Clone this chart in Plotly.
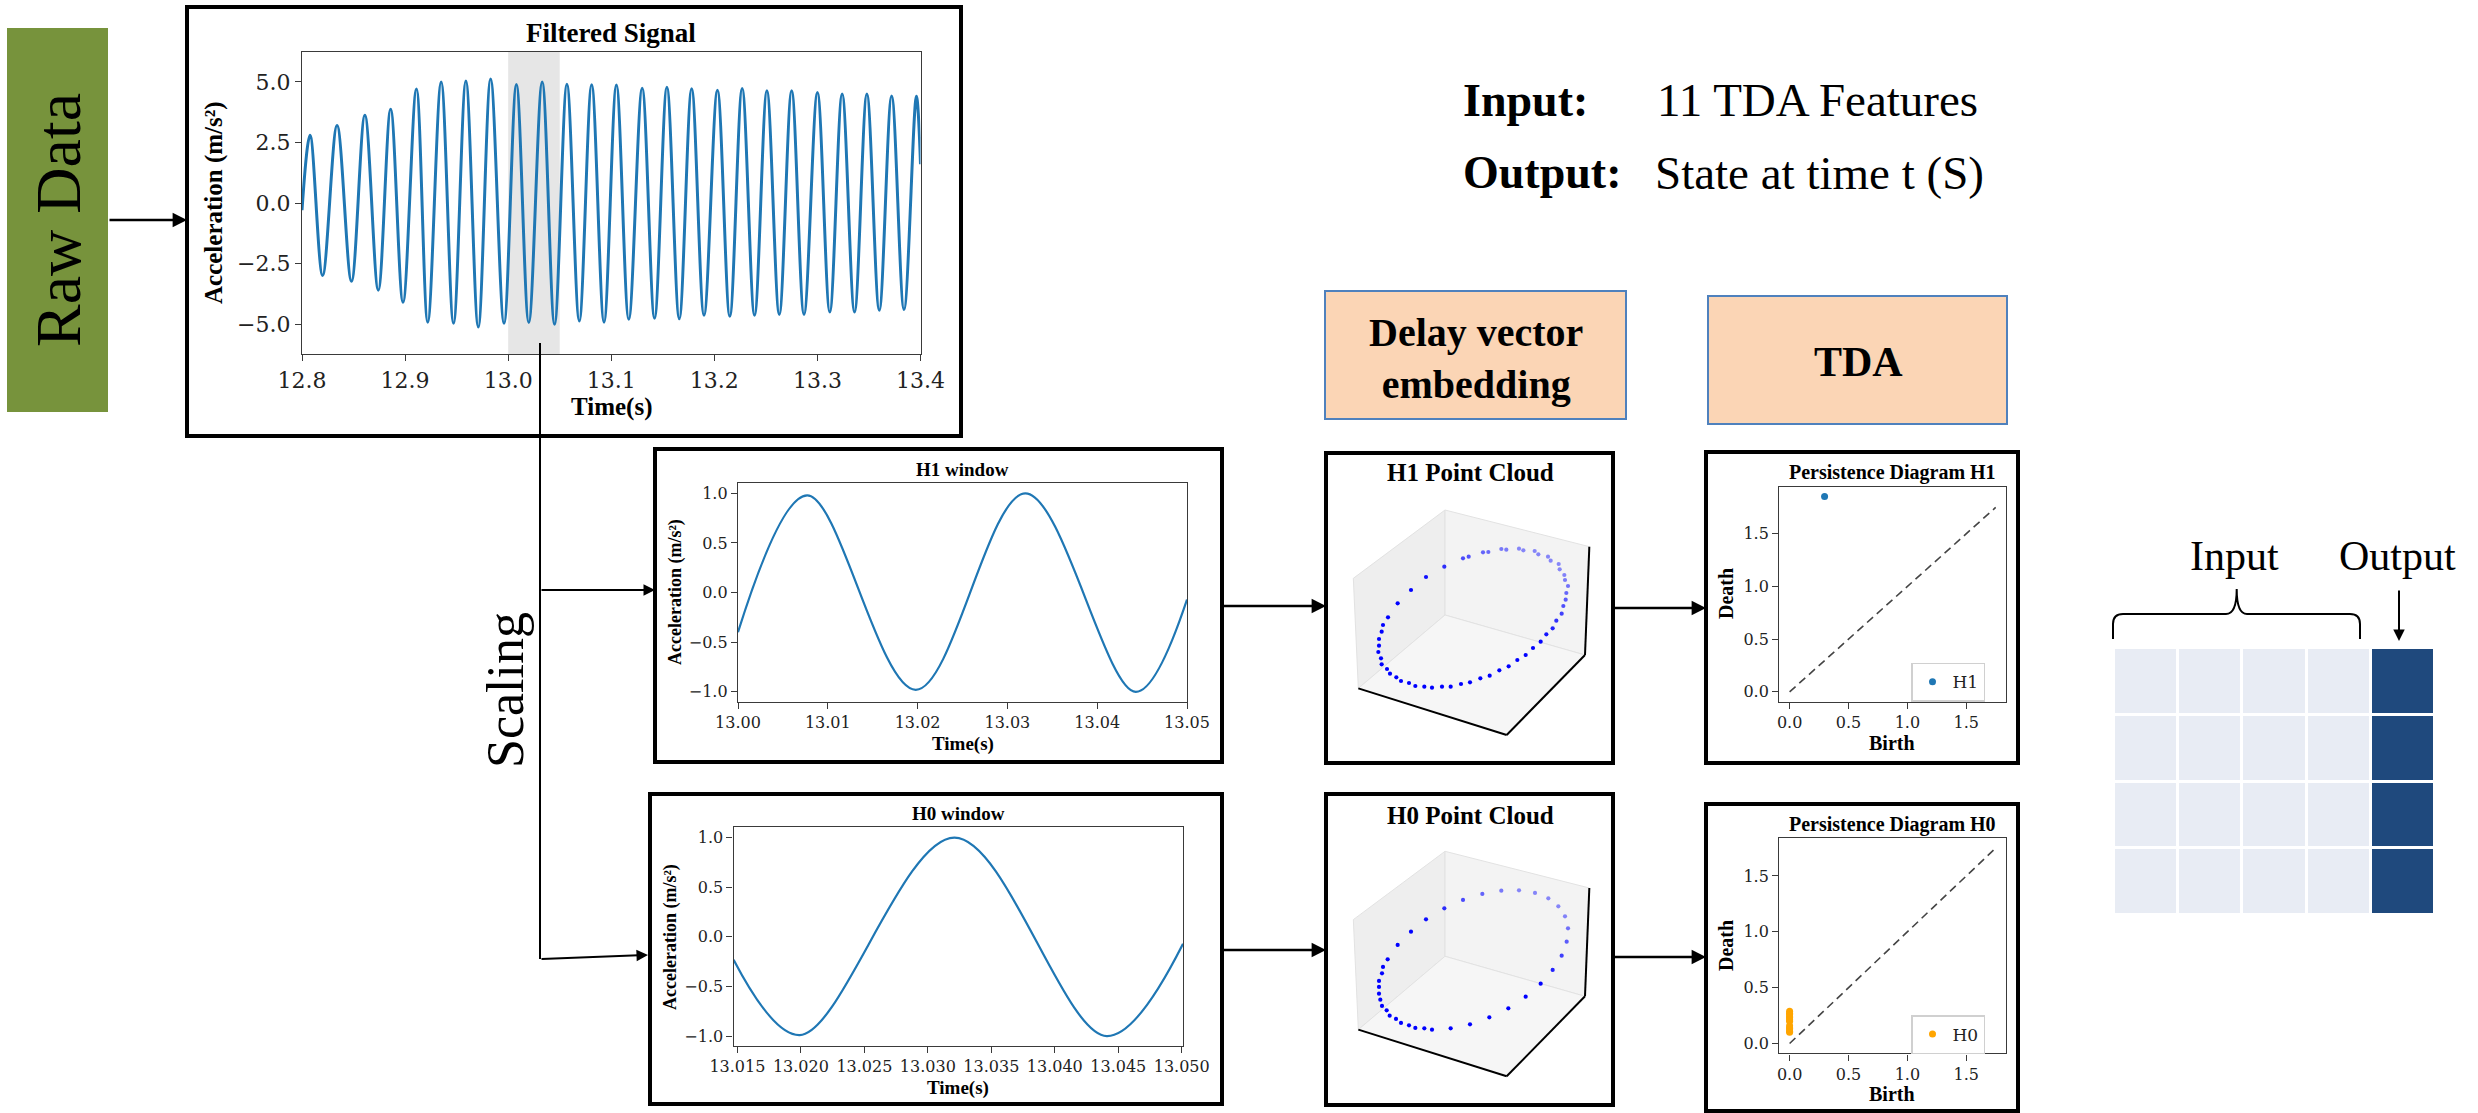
import plotly.graph_objects as go

# ---------------------------------------------------------------- data
# Filtered signal: extrema of the band-passed acceleration trace (m/s^2)
peak_t = [12.8078, 12.834, 12.861, 12.886, 12.911, 12.935, 12.959, 12.983, 13.008,
          13.033, 13.057, 13.081, 13.105, 13.130, 13.154, 13.178, 13.203, 13.227,
          13.251, 13.275, 13.300, 13.324, 13.348, 13.372, 13.396]
peak_v = [2.80, 3.20, 3.62, 3.87, 4.71, 5.00, 5.04, 5.12, 4.89, 5.00, 4.90, 4.88, 4.87,
          4.74, 4.78, 4.72, 4.66, 4.73, 4.63, 4.63, 4.56, 4.50, 4.50, 4.42, 4.41]
trough_t = [12.820, 12.848, 12.874, 12.898, 12.922, 12.947, 12.971, 12.996, 13.020,
            13.045, 13.069, 13.093, 13.117, 13.142, 13.166, 13.190, 13.215, 13.239,
            13.263, 13.287, 13.312, 13.336, 13.360, 13.384]
trough_v = [-2.99, -3.23, -3.60, -4.10, -4.92, -4.97, -5.12, -4.97, -4.93, -5.01, -4.87,
            -4.92, -4.80, -4.76, -4.78, -4.64, -4.68, -4.64, -4.60, -4.60, -4.50, -4.50,
            -4.43, -4.40]
edge_t = [12.800, 13.400]
edge_v = [-0.30, 1.60]
window_span = [13.00, 13.05]

# Scaled windows (key points of each curve)
h1_t = [13.0000, 13.0077, 13.0198, 13.0320, 13.0443, 13.0500]
h1_v = [-0.40, 0.98, -0.98, 1.00, -1.00, -0.07]
h0_t = [13.0147, 13.0199, 13.0321, 13.0441, 13.0501]
h0_v = [-0.23, -0.99, 1.00, -1.00, -0.07]

# Delay-embedded point clouds, projected onto the viewing plane
cloud1_x = [-0.87, -1.42, -1.87, -2.27, -2.56, -2.71, -2.75, -2.83, -2.83, -2.85, -2.77,
            -2.75, -2.59, -2.50, -2.31, -2.17, -1.93, -1.74, -1.47, -1.24, -0.94, -0.68,
            -0.37, -0.10, 0.21, 0.49, 0.78, 1.06, 1.32, 1.57, 1.79, 2.02, 2.19, 2.38, 2.49,
            2.65, 2.70, 2.77, 2.79, 2.84, 2.75, 2.73, 2.59, 2.56, 2.32, 2.24, 1.95, 1.84,
            1.50, 1.37, 0.99, 0.84, 0.45, 0.29, -0.14, -0.31]
cloud1_y = [1.80, 1.49, 1.10, 0.70, 0.28, 0.05, -0.15, -0.37, -0.57, -0.76, -0.95,
            -1.13, -1.27, -1.41, -1.52, -1.63, -1.69, -1.78, -1.80, -1.83, -1.80, -1.80,
            -1.72, -1.67, -1.55, -1.47, -1.31, -1.19, -1.00, -0.85, -0.64, -0.45, -0.23,
            -0.05, 0.18, 0.39, 0.62, 0.81, 1.01, 1.22, 1.40, 1.55, 1.72, 1.88, 1.98, 2.10,
            2.17, 2.27, 2.29, 2.34, 2.31, 2.33, 2.24, 2.23, 2.10, 2.05]
cloud0_x = [-0.87, -0.31, 0.27, 0.84, 1.37, 1.85, 2.25, 2.55, 2.75, 2.84, 2.80, 2.65,
            2.38, 2.02, 1.57, 1.05, 0.48, -0.10, -0.68, -1.24, -1.47, -1.74, -1.93, -2.17,
            -2.32, -2.51, -2.60, -2.74, -2.79, -2.83, -2.83, -2.83, -2.74, -2.71, -2.57,
            -2.27, -1.87, -1.42]
cloud0_y = [1.79, 2.04, 2.22, 2.32, 2.33, 2.25, 2.09, 1.85, 1.55, 1.19, 0.79, 0.37,
            -0.06, -0.47, -0.86, -1.21, -1.48, -1.69, -1.81, -1.85, -1.81, -1.80, -1.72,
            -1.65, -1.53, -1.43, -1.27, -1.14, -0.95, -0.77, -0.57, -0.39, -0.16, 0.03,
            0.26, 0.69, 1.09, 1.46]

# Persistence diagrams (birth, death)
pd_h1_birth = [0.297]
pd_h1_death = [1.853]
pd_h0_birth = [0.0] * 12
pd_h0_death = [0.10, 0.11, 0.13, 0.14, 0.16, 0.20, 0.21, 0.23, 0.24, 0.26, 0.27, 0.29]
diag_max = 1.75

# Training table: 4 input feature columns + 1 output column
table_z = [[0, 0, 0, 0, 1],
           [0, 0, 0, 0, 1],
           [0, 0, 0, 0, 1],
           [0, 0, 0, 0, 1]]

# ---------------------------------------------------------------- helpers
W, H = 2478, 1113
SERIF = "Liberation Serif"
TICKF = "DejaVu Serif"
BLUE = "#1f77b4"


def fx(x):
    return x / W


def fy(y):
    return 1 - y / H


fig = go.Figure()
layout_axes = {}


def add_axes(n, x0, x1, y0, y1, xr, yr, visible=True, xfmt=None, yfmt=None,
             xticks=None, yticks=None, tick_size=16):
    xk = "xaxis" if n == 1 else f"xaxis{n}"
    yk = "yaxis" if n == 1 else f"yaxis{n}"
    xa = dict(domain=[fx(x0), fx(x1)], range=xr, anchor="y" if n == 1 else f"y{n}",
              automargin=False)
    ya = dict(domain=[fy(y1), fy(y0)], range=yr, anchor="x" if n == 1 else f"x{n}",
              automargin=False)
    if visible:
        common = dict(showline=True, mirror=True, linecolor="#3a3a3a", linewidth=1.4,
                      ticks="outside", ticklen=6, tickwidth=1.3, tickcolor="#3a3a3a",
                      showgrid=False, zeroline=False,
                      tickfont=dict(family=TICKF, size=tick_size, color="#222"))
        xa.update(common, tickvals=xticks, tickformat=xfmt)
        ya.update(common, tickvals=yticks, tickformat=yfmt)
    else:
        for a in (xa, ya):
            a.update(visible=False, showgrid=False, zeroline=False)
    layout_axes[xk] = xa
    layout_axes[yk] = ya
    return ("x" if n == 1 else f"x{n}"), ("y" if n == 1 else f"y{n}")


def merged(ts, vs):
    pts = sorted(zip(ts, vs))
    return [p[0] for p in pts], [p[1] for p in pts]


annotations = []
shapes = []


def text(x, y, s, size, bold=False, angle=0, anchor="center", family=SERIF, color="black"):
    annotations.append(dict(
        x=fx(x), y=fy(y), xref="paper", yref="paper", showarrow=False,
        text=f"<b>{s}</b>" if bold else s, textangle=angle,
        xanchor=anchor, yanchor="middle",
        font=dict(family=family, size=size, color=color)))


def arrow(tail, head, width=2.5):
    annotations.append(dict(
        x=fx(head[0]), y=fy(head[1]), xref="paper", yref="paper",
        ax=tail[0] - head[0], ay=tail[1] - head[1], axref="pixel", ayref="pixel",
        showarrow=True, text="", arrowhead=2, arrowsize=1.15, arrowwidth=width,
        arrowcolor="black", standoff=0, startstandoff=0))


def frame(x0, y0, x1, y1, width=4):
    shapes.append(dict(type="rect", xref="paper", yref="paper",
                       x0=fx(x0), x1=fx(x1), y0=fy(y1), y1=fy(y0),
                       line=dict(color="black", width=width), fillcolor="rgba(0,0,0,0)"))


def pline(x0, y0, x1, y1, width=2):
    shapes.append(dict(type="line", xref="paper", yref="paper",
                       x0=fx(x0), x1=fx(x1), y0=fy(y0), y1=fy(y1),
                       line=dict(color="black", width=width)))


# ---------------------------------------------------------------- filtered signal
xa, ya = add_axes(1, 302, 920.5, 52, 354, [12.8, 13.4], [-6.235, 6.235],
                  xfmt=".1f", yfmt=".1f",
                  xticks=[12.8, 12.9, 13.0, 13.1, 13.2, 13.3, 13.4],
                  yticks=[-5.0, -2.5, 0.0, 2.5, 5.0], tick_size=22)
sig_t, sig_v = merged(peak_t + trough_t + edge_t, peak_v + trough_v + edge_v)
fig.add_trace(go.Scatter(x=sig_t, y=sig_v, mode="lines", xaxis=xa, yaxis=ya,
                         line=dict(color=BLUE, width=3, shape="spline", smoothing=1),
                         showlegend=False, hoverinfo="skip"))
shapes.append(dict(type="rect", xref="x", yref="y domain", x0=window_span[0],
                   x1=window_span[1], y0=0, y1=1, fillcolor="rgba(128,128,128,0.2)",
                   line=dict(width=0), layer="below"))

# ---------------------------------------------------------------- windows
xa, ya = add_axes(2, 738, 1187, 482.7, 701.7, [13.0, 13.05], [-1.1, 1.107],
                  xfmt=".2f", yfmt=".1f",
                  xticks=[13.00, 13.01, 13.02, 13.03, 13.04, 13.05],
                  yticks=[-1.0, -0.5, 0.0, 0.5, 1.0])
fig.add_trace(go.Scatter(x=h1_t, y=h1_v, mode="lines", xaxis=xa, yaxis=ya,
                         line=dict(color=BLUE, width=2.2, shape="spline", smoothing=1),
                         showlegend=False, hoverinfo="skip"))

xa, ya = add_axes(3, 733.6, 1183, 827, 1046, [13.0147, 13.0501], [-1.1, 1.107],
                  xfmt=".3f", yfmt=".1f",
                  xticks=[13.015, 13.020, 13.025, 13.030, 13.035, 13.040, 13.045, 13.050],
                  yticks=[-1.0, -0.5, 0.0, 0.5, 1.0])
fig.add_trace(go.Scatter(x=h0_t, y=h0_v, mode="lines", xaxis=xa, yaxis=ya,
                         line=dict(color=BLUE, width=2.2, shape="spline", smoothing=1),
                         showlegend=False, hoverinfo="skip"))

# ---------------------------------------------------------------- persistence diagrams
pd_ticks = [0.0, 0.5, 1.0, 1.5]
for n, y0, y1, yr, births, deaths, color, name, leg in [
        (4, 486.7, 701.7, [-0.093, 1.946], pd_h1_birth, pd_h1_death, BLUE, "H1", "legend"),
        (5, 838.3, 1053.3, [-0.0875, 1.8375], pd_h0_birth, pd_h0_death, "#ffa500", "H0",
         "legend2")]:
    xa, ya = add_axes(n, 1779.3, 2006, y0, y1, [-0.0875, 1.8375], yr,
                      xfmt=".1f", yfmt=".1f", xticks=pd_ticks, yticks=pd_ticks)
    fig.add_trace(go.Scatter(x=[0, diag_max], y=[0, diag_max], mode="lines", xaxis=xa,
                             yaxis=ya, line=dict(color="#444", width=1.6, dash="8px,5px"),
                             showlegend=False, hoverinfo="skip"))
    fig.add_trace(go.Scatter(x=births, y=deaths, mode="markers", xaxis=xa, yaxis=ya,
                             marker=dict(color=color, size=7), name=name, legend=leg,
                             showlegend=True, hoverinfo="skip"))

# ---------------------------------------------------------------- point clouds
BOX = {"LT": (-3.60, 1.45), "BT": (-0.85, 3.50), "BB": (-0.85, 0.35),
       "FL": (-3.45, -1.85), "RT": (3.48, 2.40), "RB": (3.35, -0.85),
       "FB": (1.00, -3.25)}
PANES = [(("LT", "BT", "BB", "FL"), "#eeeeee"),
         (("BT", "RT", "RB", "BB"), "#f3f3f3"),
         (("FL", "BB", "RB", "FB"), "#f6f6f6")]


def depth_opacity(xs, ys):
    out = []
    for x, y in zip(xs, ys):
        t = min(max((y + 0.5 * x - 0.5) / 2.5, 0.0), 1.0)
        out.append(1 - 0.55 * t)
    return out


for n, y0, y1, cx, cy in [(6, 490, 760, cloud1_x, cloud1_y),
                          (7, 831.3, 1101.3, cloud0_x, cloud0_y)]:
    xa, ya = add_axes(n, 1340, 1600, y0, y1, [-4.0, 3.8], [-4.0, 4.1], visible=False)
    for keys, col in PANES:
        pts = [BOX[k] for k in keys]
        path = "M " + " L ".join(f"{p[0]},{p[1]}" for p in pts) + " Z"
        shapes.append(dict(type="path", xref=xa, yref=ya, path=path, fillcolor=col,
                           line=dict(color="#e2e2e2", width=1), layer="below"))
    for a, b in [("FL", "FB"), ("FB", "RB"), ("RB", "RT")]:
        shapes.append(dict(type="line", xref=xa, yref=ya, x0=BOX[a][0], y0=BOX[a][1],
                           x1=BOX[b][0], y1=BOX[b][1], line=dict(color="black", width=2),
                           layer="below"))
    fig.add_trace(go.Scatter(x=cx, y=cy, mode="markers", xaxis=xa, yaxis=ya,
                             marker=dict(color="#0000ff", size=4.2,
                                         opacity=depth_opacity(cx, cy)),
                             showlegend=False, hoverinfo="skip"))

# ---------------------------------------------------------------- table
xa, ya = add_axes(8, 2114, 2435, 648, 915, [-0.5, 4.5], [3.5, -0.5], visible=False)
fig.add_trace(go.Heatmap(z=table_z, xaxis=xa, yaxis=ya, xgap=3, ygap=3, showscale=False,
                         colorscale=[[0, "#e8ecf4"], [1, "#1f497d"]], zmin=0, zmax=1,
                         hoverinfo="skip"))

# ---------------------------------------------------------------- diagram furniture
# Raw data block
shapes.append(dict(type="rect", xref="paper", yref="paper", x0=fx(7), x1=fx(108),
                   y0=fy(412), y1=fy(28), fillcolor="#77933c", line=dict(width=0)))
text(58, 220, "Raw Data", 64, angle=-90)

# Panel frames
frame(187, 7, 961, 436)
frame(655, 449, 1222, 762)
frame(650, 794, 1222, 1104)
frame(1326, 453, 1613, 763)
frame(1326, 794, 1613, 1105)
frame(1706, 452, 2018, 763)
frame(1706, 804, 2018, 1111)

# Stage boxes
for x0, y0, x1, y1 in [(1325, 291, 1626, 419), (1708, 296, 2007, 424)]:
    shapes.append(dict(type="rect", xref="paper", yref="paper", x0=fx(x0), x1=fx(x1),
                       y0=fy(y1), y1=fy(y0), fillcolor="#fbd5b5",
                       line=dict(color="#4f81bd", width=2)))
text(1475.5, 358, "Delay vector<br>embedding", 40, bold=True)
text(1858, 362, "TDA", 42, bold=True)

# Input / output description
text(1461, 100, "Input:", 46, bold=True, anchor="left")
text(1655, 100, "11 TDA Features", 47, anchor="left")
text(1461, 173, "Output:", 46, bold=True, anchor="left")
text(1653, 173, "State at time t (S)", 47, anchor="left")

# Panel titles and axis labels
text(611, 33, "Filtered Signal", 27, bold=True)
text(214, 203, "Acceleration (m/s²)", 25, bold=True, angle=-90)
text(611, 407, "Time(s)", 25, bold=True)

text(962.5, 469, "H1 window", 19, bold=True)
text(676, 592, "Acceleration (m/s²)", 18, bold=True, angle=-90)
text(962.5, 744, "Time(s)", 19, bold=True)

text(958, 813, "H0 window", 19, bold=True)
text(670, 937, "Acceleration (m/s²)", 18, bold=True, angle=-90)
text(958, 1088, "Time(s)", 19, bold=True)

text(1470, 473, "H1 Point Cloud", 25, bold=True)
text(1470, 815, "H0 Point Cloud", 25, bold=True)

text(1892, 472, "Persistence Diagram H1", 20, bold=True)
text(1726, 594, "Death", 20, bold=True, angle=-90)
text(1892, 743, "Birth", 20, bold=True)
text(1892, 824, "Persistence Diagram H0", 20, bold=True)
text(1726, 946, "Death", 20, bold=True, angle=-90)
text(1892, 1094, "Birth", 20, bold=True)

text(505, 690, "Scaling", 52, angle=-90)

# Flow arrows
arrow((108, 220), (187, 220))
pline(540, 343, 540, 959, width=2)
arrow((540, 590), (655, 590), width=2)
arrow((540, 959), (648, 955), width=2)
arrow((1222, 606), (1326, 606))
arrow((1613, 608), (1706, 608))
arrow((1222, 950), (1326, 950))
arrow((1613, 957), (1706, 957))

# Table annotations: brace over inputs, arrow to output
brace = [(2113, 639), (2113, 624), (2113, 614), (2123, 614), (2226, 614),
         (2236.7, 614), (2236.7, 589), (2236.7, 614), (2247, 614), (2350, 614),
         (2360, 614), (2360, 624), (2360, 639)]
b = [(fx(x), fy(y)) for x, y in brace]
brace_path = (f"M {b[0][0]},{b[0][1]} L {b[1][0]},{b[1][1]} "
              f"Q {b[2][0]},{b[2][1]} {b[3][0]},{b[3][1]} L {b[4][0]},{b[4][1]} "
              f"Q {b[5][0]},{b[5][1]} {b[6][0]},{b[6][1]} "
              f"Q {b[7][0]},{b[7][1]} {b[8][0]},{b[8][1]} L {b[9][0]},{b[9][1]} "
              f"Q {b[10][0]},{b[10][1]} {b[11][0]},{b[11][1]} L {b[12][0]},{b[12][1]}")
shapes.append(dict(type="path", xref="paper", yref="paper", path=brace_path,
                   line=dict(color="black", width=2)))
text(2234, 556, "Input", 42)
text(2397, 556, "Output", 42)
arrow((2399, 589), (2399, 641), width=2)

legend_style = dict(xanchor="left", yanchor="top", bgcolor="rgba(255,255,255,0.85)",
                    bordercolor="#d0d0d0", borderwidth=1.5,
                    font=dict(family=TICKF, size=17, color="#222"), itemwidth=30)

fig.update_layout(
    width=W, height=H, autosize=False,
    margin=dict(l=0, r=0, t=0, b=0, pad=0, autoexpand=False),
    paper_bgcolor="white", plot_bgcolor="white",
    shapes=shapes, annotations=annotations,
    legend=dict(x=fx(1911), y=fy(662.7), **legend_style),
    legend2=dict(x=fx(1911), y=fy(1015), **legend_style),
    **layout_axes,
)

fig.write_html("out.html", config={"displayModeBar": False})
